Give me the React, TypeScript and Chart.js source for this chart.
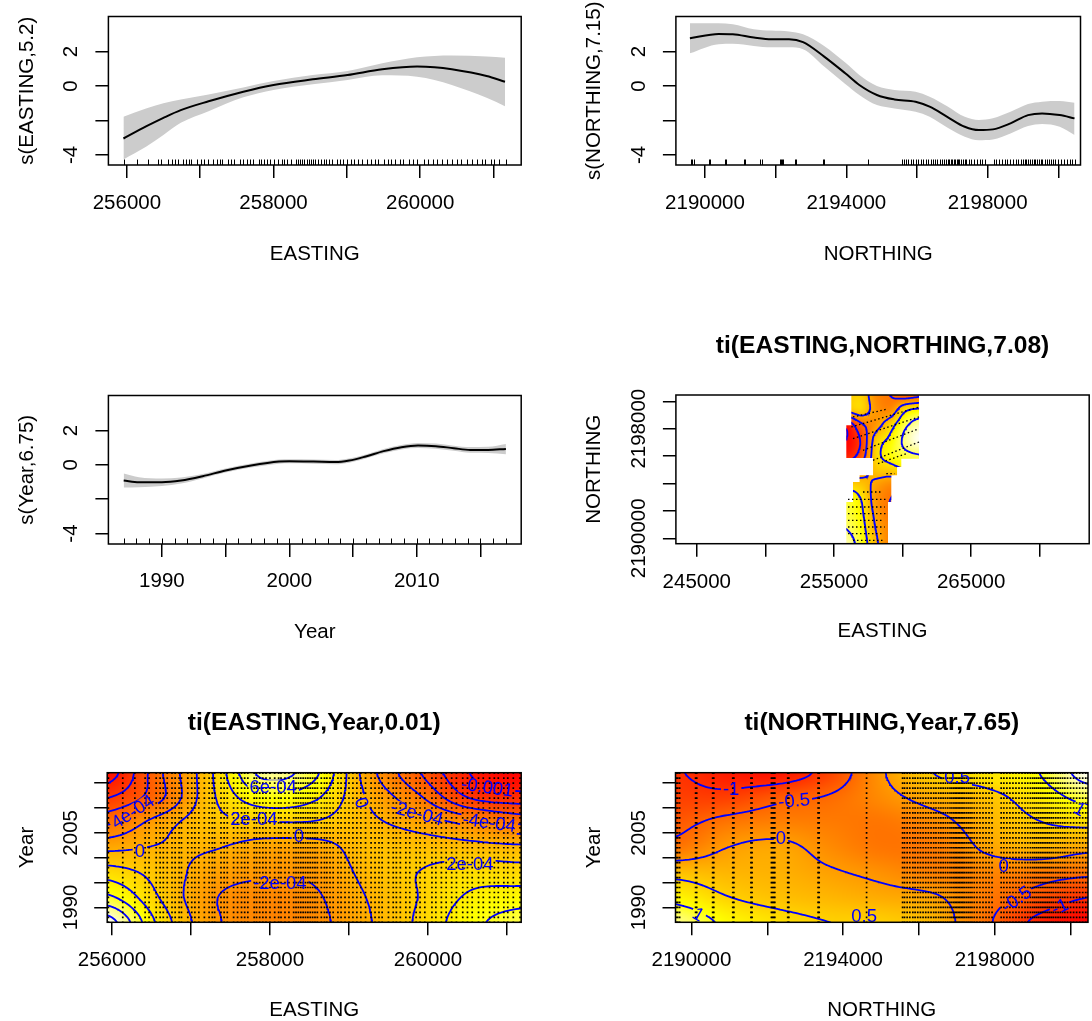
import React, { useEffect, useRef } from 'react';
import { Chart, registerables } from 'chart.js';

Chart.register(...registerables);

const FONT = "'Liberation Sans', Arimo, Arial, sans-serif";
const TICK_SIZE = 20.5;
const TITLE_SIZE = 24.6;
const CLABEL_SIZE = 18.5;
const BLUE = '#0000FF';
const BAND = '#CCCCCC';

// ---------- Panel 1: s(EASTING,5.2) ----------
const eastingX = [255953, 256261, 256498, 256735, 257114, 257588, 258000, 258535, 259009, 259483, 259957, 260194, 260431, 260905, 261156];
const eastingFit = [-3.05, -2.35, -1.85, -1.4, -0.89, -0.33, 0.06, 0.39, 0.64, 0.97, 1.13, 1.09, 0.97, 0.58, 0.25];
const eastingUpper = [-1.79, -1.3, -1.0, -0.78, -0.49, -0.08, 0.29, 0.64, 0.87, 1.32, 1.67, 1.75, 1.77, 1.71, 1.65];
const eastingLower = [-4.27, -3.53, -2.85, -2.14, -1.46, -0.66, -0.23, 0.1, 0.35, 0.62, 0.54, 0.35, 0.06, -0.68, -1.17];
const eastingRug = [255955, 256137, 256290, 256420, 256470, 256560, 256610, 256650, 256700, 256760, 256800, 256850, 256880, 256960, 257010, 257050, 257100, 257170, 257230, 257270, 257300, 257380, 257420, 257460, 257540, 257590, 257640, 257680, 257720, 257800, 257830, 257870, 257910, 257950, 258000, 258060, 258110, 258140, 258190, 258240, 258300, 258330, 258360, 258390, 258420, 258450, 258480, 258510, 258540, 258570, 258600, 258650, 258690, 258720, 258760, 258800, 258860, 258900, 258950, 259000, 259050, 259100, 259150, 259210, 259280, 259330, 259380, 259420, 259500, 259560, 259600, 259650, 259720, 259770, 259850, 259900, 259960, 260050, 260100, 260170, 260230, 260300, 260360, 260440, 260500, 260560, 260640, 260700, 260780, 260840, 260890, 260960, 261010, 261080, 261165];
const eastingTicks = [256000, 257000, 258000, 259000, 260000, 261000];
const eastingTickLabels = [256000, 258000, 260000];
const sTicks = [-4, -2, 0, 2];
const sTickLabels = [-4, 0, 2];

// ---------- Panel 2: s(NORTHING,7.15) ----------
const northingX = [2189572, 2190388, 2190786, 2191383, 2191881, 2192378, 2192776, 2193373, 2193970, 2194368, 2194866, 2195363, 2195960, 2196358, 2196856, 2197353, 2197751, 2198149, 2198647, 2199144, 2199542, 2200040, 2200460];
const northingFit = [2.78, 3.03, 3.01, 2.82, 2.72, 2.72, 2.55, 1.71, 0.74, 0.06, -0.52, -0.78, -0.91, -1.2, -1.79, -2.37, -2.56, -2.52, -2.17, -1.69, -1.59, -1.69, -1.88];
const northingUpper = [3.65, 3.65, 3.59, 3.3, 3.22, 3.17, 3.01, 2.33, 1.36, 0.64, 0.0, -0.23, -0.33, -0.62, -1.17, -1.79, -1.98, -1.88, -1.5, -1.05, -0.91, -0.87, -0.97];
const northingLower = [1.9, 2.43, 2.45, 2.33, 2.25, 2.25, 2.14, 1.13, 0.12, -0.52, -1.11, -1.3, -1.5, -1.79, -2.41, -2.95, -3.15, -3.11, -2.76, -2.33, -2.21, -2.37, -2.85];
const northingRug = [2189600, 2189640, 2189690, 2190110, 2190140, 2190560, 2190590, 2191090, 2191120, 2191570, 2191600, 2192110, 2192140, 2192170, 2192200, 2192540, 2192570, 2193340, 2193370, 2194620, 2195570, 2195620, 2195690, 2195760, 2195840, 2195900, 2195970, 2196040, 2196110, 2196180, 2196250, 2196320, 2196390, 2196450, 2196520, 2196580, 2196640, 2196700, 2196760, 2196820, 2196870, 2196920, 2196960, 2197000, 2197040, 2197080, 2197120, 2197160, 2197200, 2197250, 2197300, 2197350, 2197400, 2197460, 2197530, 2197610, 2197690, 2197770, 2197850, 2197930, 2198170, 2198240, 2198320, 2198400, 2198480, 2198560, 2198640, 2198720, 2198800, 2198870, 2198940, 2199000, 2199050, 2199100, 2199150, 2199200, 2199250, 2199300, 2199350, 2199400, 2199450, 2199500, 2199550, 2199610, 2199670, 2199730, 2199790, 2199850, 2199920, 2200000, 2200080, 2200160, 2200240, 2200320, 2200400, 2200460];
const northingTicks = [2190000, 2192000, 2194000, 2196000, 2198000, 2200000];
const northingTickLabels = [2190000, 2194000, 2198000];

// ---------- Panel 3: s(Year,6.75) ----------
const yearX = [1987, 1988.2, 1990, 1991.5, 1993.2, 1995, 1997, 1999.2, 2000, 2001.9, 2003.6, 2004.7, 2006, 2007.4, 2008.8, 2010.1, 2011.5, 2012.9, 2014.2, 2015.6, 2017];
const yearFit = [-0.91, -1.01, -1.01, -0.91, -0.66, -0.33, -0.04, 0.19, 0.21, 0.19, 0.16, 0.25, 0.49, 0.8, 1.03, 1.13, 1.09, 0.97, 0.87, 0.87, 0.93];
const yearUpper = [-0.5, -0.72, -0.79, -0.73, -0.53, -0.21, 0.08, 0.31, 0.33, 0.31, 0.28, 0.37, 0.61, 0.93, 1.16, 1.28, 1.24, 1.12, 1.04, 1.05, 1.22];
const yearLower = [-1.32, -1.3, -1.23, -1.09, -0.79, -0.45, -0.16, 0.07, 0.09, 0.07, 0.04, 0.13, 0.37, 0.67, 0.9, 0.98, 0.94, 0.82, 0.7, 0.69, 0.62];
const yearRug = [1987, 1988, 1989, 1990, 1991, 1992, 1993, 1994, 1995, 1996, 1997, 1998, 1999, 2000, 2001, 2002, 2003, 2004, 2005, 2006, 2007, 2008, 2009, 2010, 2011, 2012, 2013, 2014, 2015, 2016, 2017];
const yearTicks = [1990, 1995, 2000, 2005, 2010, 2015];
const yearTickLabels = [1990, 2000, 2010];

// ---------- Panel 4: ti(EASTING,NORTHING,7.08) ----------
const enNodesE = [255900, 256970, 258040, 259110, 260180, 261250];
const enNodesN = [2189600, 2190686, 2191772, 2192858, 2193944, 2195030, 2196116, 2197202, 2198288, 2199374, 2200460];
const enValues = [
  [1.2, 0.8, 0.1, -0.4, -0.5, -0.5],
  [1.0, 0.7, 0.0, -0.4, -0.5, -0.5],
  [0.9, 0.6, -0.1, -0.5, -0.6, -0.6],
  [0.8, 0.5, -0.2, -0.5, -0.6, -0.6],
  [0.3, 0.2, -0.1, -0.3, -0.3, -0.3],
  [-0.6, -0.3, 0.2, 0.3, 0.5, 0.6],
  [-1.3, -0.8, 0.3, 0.7, 0.9, 1.0],
  [-1.5, -0.95, 0.2, 0.6, 1.1, 1.4],
  [-1.35, -0.6, -0.2, 0.3, 0.9, 1.2],
  [0.1, 0.3, -0.2, -0.3, 0.4, 0.6],
  [0.2, 0.3, -0.3, -0.5, -0.7, -0.6],
];
const enLevels = [-1.5, -1, -0.5, 0, 0.5, 1];
const enMaskE = [256266, 261200, 261200, 259910, 259910, 259600, 259600, 259180, 259180, 258940, 258940, 255900, 255900, 256390, 256390, 256870, 256870, 257850, 257850, 255900, 255900, 256266];
const enMaskN = [2200460, 2200460, 2195810, 2195810, 2195200, 2195200, 2194600, 2194600, 2192650, 2192650, 2189606, 2189606, 2192650, 2192650, 2194110, 2194110, 2194600, 2194600, 2195860, 2195860, 2198250, 2198250];
const transectStartE = [256388, 256266, 256388, 257117, 257846, 258210, 258818, 257117, 256023, 256023, 256023, 256023, 256023, 256023, 256388];
const transectStartN = [2198855, 2198125, 2197275, 2196425, 2195695, 2195450, 2194720, 2193380, 2192845, 2192285, 2191800, 2191310, 2190825, 2190340, 2189850];
const transectEndE = [258818, 261200, 261200, 261200, 261200, 260277, 259426, 258575, 258818, 258697, 258818, 258575, 258697, 258575, 258575];
const transectEndN = [2199415, 2199585, 2198855, 2198005, 2197030, 2196180, 2194720, 2193380, 2192845, 2192285, 2191800, 2191310, 2190825, 2190340, 2189850];
const enXTicks = [245000, 250000, 255000, 260000, 265000, 270000];
const enXTickLabels = [245000, 255000, 265000];
const enYTicks = [2190000, 2192000, 2194000, 2196000, 2198000, 2200000];
const enYTickLabels = [2190000, 2198000];

// ---------- Panel 5: ti(EASTING,Year,0.01)  (values in units of 1e-4) ----------
const eyNodesE = [255940, 256595, 257250, 257905, 258560, 259215, 259870, 260525, 261180];
const eyNodesYear = [1987, 1992, 1997, 2002, 2007, 2012, 2017];
const eyValuesE4 = [
  [11, 3.5, -1.4, -3, -2.6, -0.3, 2.3, 5.3, 7],
  [6.5, 2, -1.7, -2.8, -2.3, 0, 2, 4.3, 5],
  [3, 1.2, -0.9, -1.7, -1.6, 0.5, 2, 3, 2.8],
  [-0.5, 0.15, 0.15, -0.8, -0.8, 0.8, 1, 0.8, 0.5],
  [-4.3, -1, 1.2, 1.8, 1.8, 0.5, -0.8, -2.5, -4.3],
  [-8, -4.5, 1.5, 5.3, 4.3, 0, -3.5, -8, -9],
  [-11, -4.5, 1.7, 8.5, 6.5, -0.8, -5.7, -10, -12],
];
const eyLevelsE4 = [-10, -8, -6, -4, -2, 0, 2, 4, 6, 8, 10];
const eyLabelText = ['4e-04', '0', '6e-04', '2e-04', '0', '-2e-04', '0', '-2e-04', '-0.001', '-4e-04', '2e-04'];
const eyLabelE = [256269, 256353, 258041, 257796, 258366, 258126, 259151, 259856, 260750, 260775, 260531];
const eyLabelYear = [2009.1, 2001.2, 2014.0, 2007.6, 2004.2, 1994.8, 2011.0, 2008.8, 2014.0, 2006.9, 1998.5];
const eyLabelRot = [-33, 0, 0, 0, 0, 0, 70, 15, 8, 8, 0];

// ---------- Panel 6: ti(NORTHING,Year,7.65) ----------
const nyNodesN = [2189580, 2190940, 2192300, 2193660, 2195020, 2196380, 2197740, 2199100, 2200460];
const nyNodesYear = [1987, 1992, 1997, 2002, 2007, 2012, 2017];
const nyValues = [
  [1.35, 0.9, 0.65, 0.5, 0.48, 0.25, -0.4, -1.1, -1.45],
  [0.85, 0.52, 0.35, 0.25, 0.15, 0.05, -0.3, -0.65, -1.0],
  [0.35, 0.25, 0.2, 0.05, -0.1, -0.25, -0.2, -0.3, -0.4],
  [-0.35, 0, 0.1, -0.15, -0.35, -0.3, 0.05, 0.25, 0.1],
  [-0.62, -0.35, -0.25, -0.3, -0.35, -0.15, 0.2, 0.47, 0.6],
  [-0.85, -0.85, -0.6, -0.45, -0.15, 0.15, 0.35, 0.7, 1.15],
  [-0.97, -1.2, -1.25, -0.8, -0.05, 0.5, 0.7, 0.97, 1.7],
];
const nyLevels = [-1.5, -1, -0.5, 0, 0.5, 1, 1.5];
const nyLabelText = ['-1', '-0.5', '0', '0.5', '1', '0.5', '0', '-0.5', '-1', '1'];
const nyLabelN = [2191048, 2192713, 2192363, 2194554, 2190171, 2197009, 2198236, 2198587, 2199726, 2200226];
const nyLabelYear = [2013.65, 2011.3, 2003.8, 1988.1, 1988.45, 2016.0, 1998.1, 1991.5, 1990.0, 2009.6];
const nyLabelRot = [0, -5, 0, 0, 30, 0, 0, -35, -25, 30];

// ---------- helpers ----------
function catmull(p0, p1, p2, p3, t) {
  return 0.5 * (2 * p1 + (-p0 + p2) * t + (2 * p0 - 5 * p1 + 4 * p2 - p3) * t * t + (-p0 + 3 * p1 - 3 * p2 + p3) * t * t * t);
}
function fracIndex(nodes, v) {
  const n = nodes.length;
  if (v <= nodes[0]) return 0;
  if (v >= nodes[n - 1]) return n - 1;
  let i = 0;
  while (v > nodes[i + 1]) i++;
  return i + (v - nodes[i]) / (nodes[i + 1] - nodes[i]);
}
function makeSurface(xs, ys, rows) {
  const nx = xs.length, ny = ys.length;
  const at = (j, i) => rows[Math.max(0, Math.min(ny - 1, j))][Math.max(0, Math.min(nx - 1, i))];
  return (x, y) => {
    const fx = fracIndex(xs, x), fy = fracIndex(ys, y);
    let i = Math.floor(fx), j = Math.floor(fy);
    if (i >= nx - 1) i = nx - 2;
    if (j >= ny - 1) j = ny - 2;
    const tx = fx - i, ty = fy - j;
    const col = [];
    for (let k = -1; k <= 2; k++) col.push(catmull(at(j + k, i - 1), at(j + k, i), at(j + k, i + 1), at(j + k, i + 2), tx));
    return catmull(col[0], col[1], col[2], col[3], ty);
  };
}
function heatRGB(t) {
  const k = Math.max(0, Math.min(1, t)) * 49;
  if (k <= 37) return [255, Math.round((255 * k) / 37), 0];
  const s = 1 - ((k - 37) / 12) * (1 - 1 / 24);
  return [255, 255, Math.round(255 * (1 - s))];
}
function contourData(f, x0, x1, y0, y1, nx, ny, levels) {
  const xs = [], ys = [];
  for (let i = 0; i <= nx; i++) xs.push(x0 + ((x1 - x0) * i) / nx);
  for (let j = 0; j <= ny; j++) ys.push(y0 + ((y1 - y0) * j) / ny);
  const v = ys.map((y) => xs.map((x) => f(x, y)));
  const out = [];
  const lerp = (p, q, vp, vq, L) => p + ((q - p) * (L - vp)) / (vq - vp);
  const seg = (p, q) => { out.push(p, q, { x: q.x, y: null }); };
  for (const L of levels) {
    for (let j = 0; j < ny; j++) {
      for (let i = 0; i < nx; i++) {
        const a = v[j][i], b = v[j][i + 1], c = v[j + 1][i + 1], d = v[j + 1][i];
        const sa = a >= L, sb = b >= L, sc = c >= L, sd = d >= L;
        const e = [null, null, null, null];
        if (sa !== sb) e[0] = { x: lerp(xs[i], xs[i + 1], a, b, L), y: ys[j] };
        if (sb !== sc) e[1] = { x: xs[i + 1], y: lerp(ys[j], ys[j + 1], b, c, L) };
        if (sc !== sd) e[2] = { x: lerp(xs[i + 1], xs[i], c, d, L), y: ys[j + 1] };
        if (sd !== sa) e[3] = { x: xs[i], y: lerp(ys[j + 1], ys[j], d, a, L) };
        const idx = [0, 1, 2, 3].filter((k) => e[k]);
        if (idx.length === 2) seg(e[idx[0]], e[idx[1]]);
        else if (idx.length === 4) {
          const center = (a + b + c + d) / 4 >= L;
          if (center === sa) { seg(e[0], e[1]); seg(e[2], e[3]); }
          else { seg(e[0], e[3]); seg(e[1], e[2]); }
        }
      }
    }
  }
  return out;
}
function polyPath(ctx, sx, sy, es, ns) {
  ctx.beginPath();
  es.forEach((e, i) => {
    const px = sx.getPixelForValue(e), py = sy.getPixelForValue(ns[i]);
    if (i === 0) ctx.moveTo(px, py); else ctx.lineTo(px, py);
  });
  ctx.closePath();
}
function pts(xs, ys) { return xs.map((x, i) => ({ x, y: ys[i] })); }
function grid(xs, ys) { const o = []; for (const y of ys) for (const x of xs) o.push({ x, y }); return o; }

function smoothDatasets(xs, fit, up, lo) {
  return [
    { data: pts(xs, fit), borderColor: '#000', borderWidth: 2, pointRadius: 0, cubicInterpolationMode: 'monotone', fill: false },
    { data: pts(xs, up), borderWidth: 0, borderColor: 'rgba(0,0,0,0)', pointRadius: 0, cubicInterpolationMode: 'monotone', fill: '+1', backgroundColor: BAND },
    { data: pts(xs, lo), borderWidth: 0, borderColor: 'rgba(0,0,0,0)', pointRadius: 0, cubicInterpolationMode: 'monotone', fill: false },
  ];
}
function contourDataset(data) {
  return { data, borderColor: BLUE, borderWidth: 1.8, pointRadius: 0, spanGaps: false, borderCapStyle: 'round', tension: 0, fill: false };
}
function dotsDataset(data) {
  return { data, showLine: false, pointRadius: 1.2, pointStyle: 'rect', pointBackgroundColor: '#000', pointBorderWidth: 0, borderWidth: 0, fill: false };
}

function makeDecor(s) {
  const lab = s.labels;
  const labelPoly = (chart, i) => {
    const { ctx, scales } = chart;
    const px = scales.x.getPixelForValue(lab.x[i]);
    const py = scales.y.getPixelForValue(lab.y[i]);
    const w = ctx.measureText(lab.text[i]).width + 4;
    const h = CLABEL_SIZE * 0.85;
    const r = (lab.rot[i] * Math.PI) / 180;
    const c = Math.cos(r), sn = Math.sin(r);
    return [[-w / 2, -h / 2], [w / 2, -h / 2], [w / 2, h / 2], [-w / 2, h / 2]].map(([u, v]) => [px + u * c - v * sn, py + u * sn + v * c]);
  };
  return {
    id: 'decor',
    beforeDatasetsDraw(chart) {
      const hm = s.heat;
      if (!hm) return;
      const { ctx, chartArea: ca, scales } = chart;
      const sx = scales.x, sy = scales.y;
      const left = Math.max(ca.left, sx.getPixelForValue(hm.x0));
      const right = Math.min(ca.right, sx.getPixelForValue(hm.x1));
      const w = Math.ceil(right - left), h = Math.ceil(ca.bottom - ca.top);
      const off = document.createElement('canvas');
      off.width = w; off.height = h;
      const octx = off.getContext('2d');
      const img = octx.createImageData(w, h);
      for (let py = 0; py < h; py++) {
        const yv = sy.getValueForPixel(ca.top + py + 0.5);
        for (let px = 0; px < w; px++) {
          const xv = sx.getValueForPixel(left + px + 0.5);
          const [r, g, b] = heatRGB((hm.f(xv, yv) - hm.vmin) / (hm.vmax - hm.vmin));
          const k = (py * w + px) * 4;
          img.data[k] = r; img.data[k + 1] = g; img.data[k + 2] = b; img.data[k + 3] = 255;
        }
      }
      octx.putImageData(img, 0, 0);
      ctx.save();
      ctx.beginPath();
      ctx.rect(ca.left, ca.top, ca.right - ca.left, ca.bottom - ca.top);
      ctx.clip();
      if (s.mask) { polyPath(ctx, sx, sy, s.mask.e, s.mask.n); ctx.clip(); }
      ctx.drawImage(off, left, ca.top);
      ctx.restore();
    },
    beforeDatasetDraw(chart, args) {
      if (s.contourIndex === undefined || args.index !== s.contourIndex) return;
      const { ctx, chartArea: ca, scales } = chart;
      ctx.save();
      if (s.mask) { polyPath(ctx, scales.x, scales.y, s.mask.e, s.mask.n); ctx.clip(); }
      if (lab) {
        ctx.font = `${CLABEL_SIZE}px ${FONT}`;
        ctx.beginPath();
        ctx.rect(ca.left, ca.top, ca.right - ca.left, ca.bottom - ca.top);
        for (let i = 0; i < lab.text.length; i++) {
          const p = labelPoly(chart, i);
          ctx.moveTo(p[0][0], p[0][1]);
          for (let k = 1; k < 4; k++) ctx.lineTo(p[k][0], p[k][1]);
          ctx.closePath();
        }
        ctx.clip('evenodd');
      }
    },
    afterDatasetDraw(chart, args) {
      if (s.contourIndex === undefined || args.index !== s.contourIndex) return;
      chart.ctx.restore();
    },
    afterDatasetsDraw(chart) {
      const { ctx, chartArea: ca, scales } = chart;
      ctx.save();
      if (s.rug) {
        ctx.strokeStyle = '#000';
        ctx.lineWidth = 1;
        ctx.beginPath();
        for (const v of s.rug) {
          const px = Math.round(scales.x.getPixelForValue(v)) + 0.5;
          ctx.moveTo(px, ca.bottom);
          ctx.lineTo(px, ca.bottom - 5.5);
        }
        ctx.stroke();
      }
      if (lab) {
        ctx.beginPath();
        ctx.rect(ca.left, ca.top, ca.right - ca.left, ca.bottom - ca.top);
        ctx.clip();
        ctx.fillStyle = BLUE;
        ctx.font = `${CLABEL_SIZE}px ${FONT}`;
        ctx.textAlign = 'center';
        ctx.textBaseline = 'middle';
        for (let i = 0; i < lab.text.length; i++) {
          ctx.save();
          ctx.translate(scales.x.getPixelForValue(lab.x[i]), scales.y.getPixelForValue(lab.y[i]));
          ctx.rotate((lab.rot[i] * Math.PI) / 180);
          ctx.fillText(lab.text[i], 0, 0);
          ctx.restore();
        }
      }
      ctx.restore();
    },
    afterDraw(chart) {
      const { ctx, chartArea: ca, scales } = chart;
      ctx.save();
      ctx.strokeStyle = '#000';
      ctx.lineWidth = 1.5;
      ctx.strokeRect(ca.left, ca.top, ca.right - ca.left, ca.bottom - ca.top);
      ctx.fillStyle = '#000';
      ctx.font = `${TICK_SIZE}px ${FONT}`;
      ctx.textAlign = 'center';
      ctx.textBaseline = 'middle';
      for (const v of s.yLabels) {
        ctx.save();
        ctx.translate(s.yLabelX - s.L, scales.y.getPixelForValue(v));
        ctx.rotate(-Math.PI / 2);
        ctx.fillText(String(v), 0, 0);
        ctx.restore();
      }
      ctx.restore();
    },
  };
}

function buildConfig(s) {
  const tickLh = TICK_SIZE * 1.2, titleLh = TITLE_SIZE * 1.2, TL = 13;
  const tickFont = { family: FONT, size: TICK_SIZE, lineHeight: 1.2 };
  const hasTitle = s.titleY !== undefined;
  const titlePadTop = hasTitle ? s.titleY - s.T - titleLh / 2 : 0;
  const gridOpts = { display: true, drawOnChartArea: false, drawTicks: true, tickLength: TL, tickColor: '#000', tickWidth: 1.5, color: '#000', lineWidth: 1.5 };
  return {
    type: 'line',
    data: { datasets: s.datasets },
    plugins: [makeDecor(s)],
    options: {
      responsive: false,
      maintainAspectRatio: false,
      animation: false,
      devicePixelRatio: 1,
      events: [],
      layout: { padding: { left: 0, right: s.L + s.W - s.c, top: hasTitle ? 0 : s.b - s.T, bottom: 0 } },
      plugins: {
        legend: { display: false },
        tooltip: { enabled: false },
        title: hasTitle
          ? { display: true, fullSize: false, text: s.title, color: '#000', font: { family: FONT, size: TITLE_SIZE, weight: 'bold', lineHeight: 1.2 }, padding: { top: titlePadTop, bottom: s.b - s.T - titleLh - titlePadTop } }
          : { display: false },
      },
      scales: {
        x: {
          type: 'linear', position: 'bottom', min: s.xMin, max: s.xMax,
          afterBuildTicks: (sc) => { sc.ticks = s.xTicks.map((v) => ({ value: v })); },
          afterFit: (sc) => { sc.height = s.T + s.H - s.d; },
          grid: gridOpts,
          border: { display: false },
          ticks: { autoSkip: false, maxRotation: 0, minRotation: 0, color: '#000', font: tickFont, padding: s.xLabelY - s.d - TL - tickLh / 2, callback: (v) => (s.xLabels.includes(v) ? String(v) : '') },
          title: { display: true, text: s.xTitle, color: '#000', font: tickFont, padding: { top: 0, bottom: s.T + s.H - s.xTitleY - tickLh / 2 } },
        },
        y: {
          type: 'linear', position: 'left', min: s.yMin, max: s.yMax,
          afterBuildTicks: (sc) => { sc.ticks = s.yTicks.map((v) => ({ value: v })); },
          afterFit: (sc) => { sc.width = s.a - s.L; },
          grid: gridOpts,
          border: { display: false },
          ticks: { display: false },
          title: { display: true, text: s.yTitle, color: '#000', font: tickFont, padding: { top: s.yTitleX - s.L - tickLh / 2, bottom: 0 } },
        },
      },
    },
  };
}

function buildSpecs() {
  const enSurf = makeSurface(enNodesE, enNodesN, enValues);
  const eySurf = makeSurface(eyNodesE, eyNodesYear, eyValuesE4);
  const nySurf = makeSurface(nyNodesN, nyNodesYear, nyValues);
  const transects = [];
  transectStartE.forEach((e, i) => {
    transects.push({ x: e, y: transectStartN[i] }, { x: transectEndE[i], y: transectEndN[i] }, { x: transectEndE[i], y: null });
  });
  return [
    {
      L: 0, T: 0, W: 546, H: 290, a: 108.4, b: 16.5, c: 521.2, d: 165,
      xLabelY: 203.3, xTitleY: 254, yLabelX: 71.8, yTitleX: 27.5,
      xMin: 255748, xMax: 261377, yMin: -4.59, yMax: 4.04,
      xTicks: eastingTicks, xLabels: eastingTickLabels, yTicks: sTicks, yLabels: sTickLabels,
      xTitle: 'EASTING', yTitle: 's(EASTING,5.2)',
      datasets: smoothDatasets(eastingX, eastingFit, eastingUpper, eastingLower), rug: eastingRug,
    },
    {
      L: 546, T: 0, W: 546, H: 290, a: 675.9, b: 16.5, c: 1080.5, d: 165,
      xLabelY: 203.3, xTitleY: 254, yLabelX: 639, yTitleX: 594.8,
      xMin: 2189176, xMax: 2200629, yMin: -4.59, yMax: 4.04,
      xTicks: northingTicks, xLabels: northingTickLabels, yTicks: sTicks, yLabels: sTickLabels,
      xTitle: 'NORTHING', yTitle: 's(NORTHING,7.15)',
      datasets: smoothDatasets(northingX, northingFit, northingUpper, northingLower), rug: northingRug,
    },
    {
      L: 0, T: 330, W: 546, H: 330, a: 108.4, b: 395.5, c: 521.2, d: 544,
      xLabelY: 581.7, xTitleY: 632.3, yLabelX: 71.8, yTitleX: 27.5,
      xMin: 1985.8, xMax: 2018.2, yMin: -4.61, yMax: 4.04,
      xTicks: yearTicks, xLabels: yearTickLabels, yTicks: sTicks, yLabels: sTickLabels,
      xTitle: 'Year', yTitle: 's(Year,6.75)',
      datasets: smoothDatasets(yearX, yearFit, yearUpper, yearLower), rug: yearRug,
    },
    {
      L: 546, T: 320, W: 546, H: 340, a: 675.9, b: 395, c: 1089.2, d: 543.7,
      titleY: 346.7, title: 'ti(EASTING,NORTHING,7.08)',
      xLabelY: 582.7, xTitleY: 631.7, yLabelX: 639, yTitleX: 594.8,
      xMin: 243477, xMax: 273608, yMin: 2189606, yMax: 2200460,
      xTicks: enXTicks, xLabels: enXTickLabels, yTicks: enYTicks, yLabels: enYTickLabels,
      xTitle: 'EASTING', yTitle: 'NORTHING',
      heat: { f: enSurf, x0: 255900, x1: 261250, vmin: -1.5, vmax: 1.4 },
      mask: { e: enMaskE, n: enMaskN },
      contourIndex: 1,
      datasets: [
        { data: transects, borderColor: '#000', borderWidth: 1.3, borderDash: [1.5, 2.5], pointRadius: 0, spanGaps: false, fill: false },
        contourDataset(contourData(enSurf, 255900, 261250, 2189606, 2200460, 60, 130, enLevels)),
      ],
    },
    {
      L: 0, T: 680, W: 546, H: 360, a: 107.2, b: 772.7, c: 521.2, d: 922.3,
      titleY: 723.3, title: 'ti(EASTING,Year,0.01)',
      xLabelY: 960, xTitleY: 1010, yLabelX: 71.8, yTitleX: 27.5,
      xMin: 255940, xMax: 261180, yMin: 1987, yMax: 2017.1,
      xTicks: eastingTicks, xLabels: eastingTickLabels, yTicks: yearTicks, yLabels: [1990, 2005],
      xTitle: 'EASTING', yTitle: 'Year',
      heat: { f: eySurf, x0: 255940, x1: 261180, vmin: -12, vmax: 11 },
      contourIndex: 1,
      labels: { text: eyLabelText, x: eyLabelE, y: eyLabelYear, rot: eyLabelRot },
      datasets: [
        dotsDataset(grid(eastingRug, yearRug)),
        contourDataset(contourData(eySurf, 255940, 261180, 1987, 2017.1, 150, 60, eyLevelsE4)),
      ],
    },
    {
      L: 546, T: 680, W: 546, H: 360, a: 675.5, b: 772.7, c: 1089.2, d: 922.3,
      titleY: 723.3, title: 'ti(NORTHING,Year,7.65)',
      xLabelY: 960, xTitleY: 1010, yLabelX: 639, yTitleX: 594.8,
      xMin: 2189580, xMax: 2200460, yMin: 1987, yMax: 2017.1,
      xTicks: northingTicks, xLabels: northingTickLabels, yTicks: yearTicks, yLabels: [1990, 2005],
      xTitle: 'NORTHING', yTitle: 'Year',
      heat: { f: nySurf, x0: 2189580, x1: 2200460, vmin: -1.45, vmax: 1.7 },
      contourIndex: 1,
      labels: { text: nyLabelText, x: nyLabelN, y: nyLabelYear, rot: nyLabelRot },
      datasets: [
        dotsDataset(grid(northingRug, yearRug)),
        contourDataset(contourData(nySurf, 2189580, 2200460, 1987, 2017.1, 150, 60, nyLevels)),
      ],
    },
  ];
}

export default function App() {
  const refs = useRef([]);
  const specs = useRef(null);
  if (!specs.current) specs.current = buildSpecs();
  useEffect(() => {
    const charts = specs.current.map((s, i) => new Chart(refs.current[i], buildConfig(s)));
    return () => charts.forEach((c) => c.destroy());
  }, []);
  return (
    <div style={{ position: 'absolute', left: 0, top: 0, width: 1092, height: 1021, overflow: 'hidden', background: '#fff' }}>
      {specs.current.map((s, i) => (
        <canvas
          key={i}
          ref={(el) => { refs.current[i] = el; }}
          width={s.W}
          height={s.H}
          style={{ position: 'absolute', left: s.L, top: s.T, width: s.W, height: s.H }}
        />
      ))}
    </div>
  );
}
